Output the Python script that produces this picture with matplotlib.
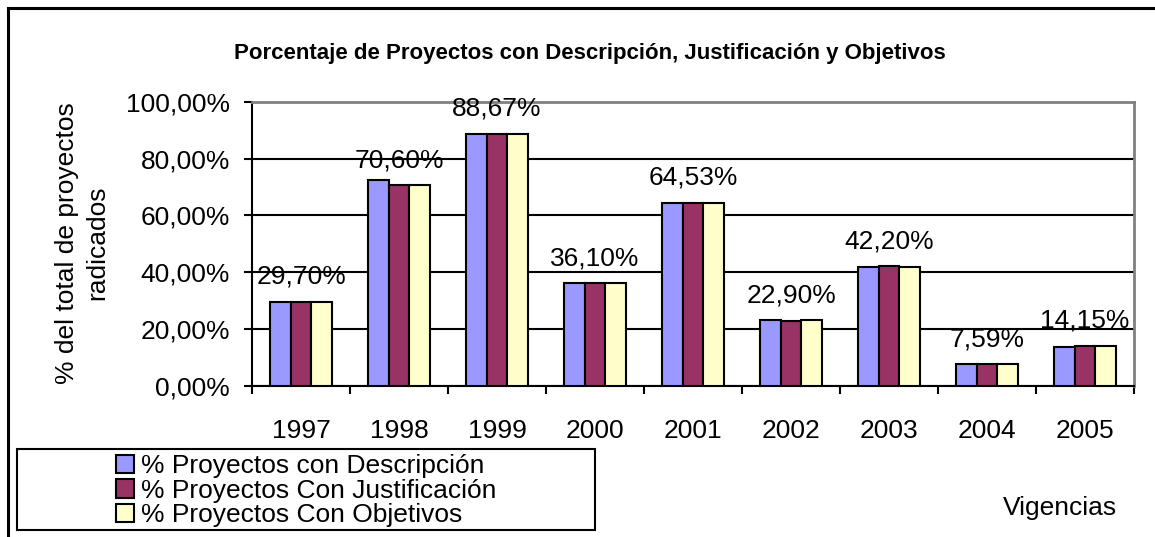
import matplotlib
matplotlib.use("Agg")
import matplotlib.pyplot as plt
from matplotlib.patches import Rectangle
from matplotlib.lines import Line2D
from matplotlib.ticker import FuncFormatter
import numpy as np

plt.rcParams['font.family'] = ['Liberation Sans', 'DejaVu Sans']

years = ['1997', '1998', '1999', '2000', '2001', '2002', '2003', '2004', '2005']
descripcion = [29.70, 72.60, 88.67, 36.10, 64.20, 23.10, 41.70, 7.59, 13.70]
justificacion = [29.70, 70.60, 88.67, 36.10, 64.53, 22.90, 42.20, 7.59, 14.15]
objetivos = [29.70, 70.60, 88.67, 36.10, 64.30, 23.10, 41.70, 7.59, 14.15]
series_names = ['% Proyectos con Descripción', '% Proyectos Con Justificación', '% Proyectos Con Objetivos']
colors = ['#9999FF', '#993366', '#FFFFCC']

W, H = 1155, 537
fs = 19
fig = plt.figure(figsize=(W / 100, H / 100), dpi=100)
ax = fig.add_axes([252 / W, 1 - 386 / H, (1134 - 252) / W, (386 - 101.7) / H])

x = np.arange(len(years)) + 0.5
bw = 0.214
handles = []
for k, (vals, c, name) in enumerate(zip([descripcion, justificacion, objetivos], colors, series_names)):
    b = ax.bar(x + (k - 1) * bw, vals, bw, color=c, edgecolor='black', linewidth=1.5, label=name, zorder=3)
    handles.append(b)

# value labels sit on the middle series
for xi, v in zip(x, justificacion):
    ax.annotate(('%.2f%%' % v).replace('.', ','), (xi, v), xytext=(0, 18), textcoords='offset points',
                ha='center', va='center', fontsize=fs, zorder=4)

ax.set_xlim(0, len(years))
ax.set_ylim(0, 100)
ax.set_yticks([0, 20, 40, 60, 80, 100])
ax.yaxis.set_major_formatter(FuncFormatter(lambda v, p: ('%.2f%%' % v).replace('.', ',')))
ax.tick_params(axis='y', direction='out', length=6, width=1.5, pad=10, labelsize=fs)
ax.set_xticks(np.arange(len(years) + 1))
ax.set_xticklabels([])
ax.set_xticks(x, minor=True)
ax.set_xticklabels(years, minor=True)
ax.tick_params(axis='x', which='major', direction='out', length=6, width=1.5)
ax.tick_params(axis='x', which='minor', length=0, pad=24, labelsize=fs)

ax.yaxis.grid(True, color='black', linewidth=1.5, zorder=0)
ax.set_axisbelow(True)
ax.spines['left'].set_linewidth(1.5)
ax.spines['bottom'].set_linewidth(1.5)
ax.spines['top'].set_color('#808080')
ax.spines['right'].set_color('#808080')
ax.spines['top'].set_linewidth(2)
ax.spines['right'].set_linewidth(2)

fig.text(590 / W, 1 - 53 / H, 'Porcentaje de Proyectos con Descripción, Justificación y Objetivos',
         ha='center', va='center', fontsize=16, fontweight='bold')
fig.text(82 / W, 1 - 243 / H, '% del total de proyectos\nradicados', rotation=90,
         ha='center', va='center', multialignment='center', fontsize=fs, linespacing=1.3)
fig.text(1060 / W, 1 - 508 / H, 'Vigencias', ha='center', va='center', fontsize=fs)

# outer frame (only left and top visible)
fig.add_artist(Line2D([8 / W, 8 / W], [0, 1 - 8 / H], color='black', linewidth=2.2))
fig.add_artist(Line2D([8 / W, 1], [1 - 8 / H, 1 - 8 / H], color='black', linewidth=2.2))

# legend box
fig.add_artist(Rectangle((17 / W, 1 - 530 / H), 578 / W, 81 / H, transform=fig.transFigure,
                         facecolor='white', edgecolor='black', linewidth=1.5))
fig.legend(handles=handles, loc='upper left', bbox_to_anchor=(116 / W, 1 - 454 / H),
           frameon=False, fontsize=fs, labelspacing=0.02, handlelength=0.7, handleheight=0.7,
           handletextpad=0.25, borderpad=0, borderaxespad=0)

fig.savefig('out.png', dpi=100)
